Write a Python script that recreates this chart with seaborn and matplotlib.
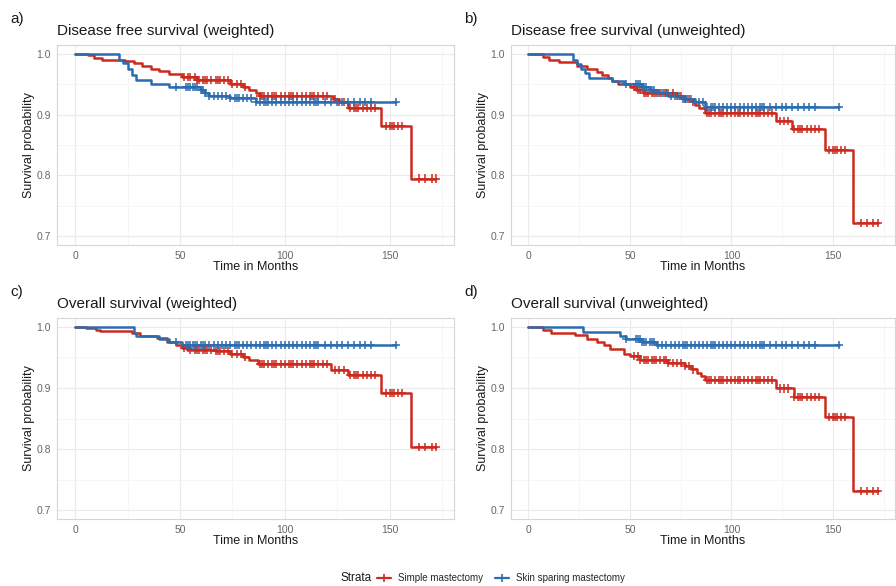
import numpy as np
import pandas as pd
import matplotlib
matplotlib.use("Agg")
import matplotlib.pyplot as plt
import seaborn as sns
from matplotlib.lines import Line2D
from matplotlib.ticker import MultipleLocator

sns.set_style("white")
plt.rcParams["font.family"] = ["Liberation Sans", "DejaVu Sans"]

RED = "#CC2A1E"
BLUE = "#2B6CB0"
strata_names = ["Simple mastectomy", "Skin sparing mastectomy"]

# -----------------------------
# DATA
# -----------------------------
# a) Disease free survival (weighted)
a_simple_t = [0, 6, 9, 13, 24, 28, 32, 36, 40, 45, 51, 58, 74, 80, 83, 86, 88, 123, 126, 130, 146, 160, 172]
a_simple_s = [1.0, .997, .993, .990, .988, .985, .980, .975, .971, .967, .962, .956, .950, .945, .940, .935, .931, .925, .920, .911, .881, .795, .795]
a_skin_t = [0, 21, 23, 25, 27, 29, 36, 45, 60, 62, 64, 74, 86, 153]
a_skin_s = [1.0, .990, .985, .975, .965, .956, .950, .945, .940, .935, .930, .927, .921, .921]

# b) Disease free survival (unweighted)
b_simple_t = [0, 7, 10, 15, 24, 29, 34, 36, 39, 41, 44, 50, 53, 57, 73, 77, 81, 82, 84, 87, 122, 130, 146, 160, 172]
b_simple_s = [1.0, .995, .990, .986, .980, .975, .970, .965, .960, .955, .950, .945, .940, .935, .930, .925, .920, .915, .910, .903, .890, .876, .842, .722, .722]
b_skin_t = [0, 22, 24, 26, 28, 30, 41, 47, 56, 60, 64, 69, 76, 82, 87, 153]
b_skin_s = [1.0, .990, .983, .975, .968, .960, .955, .950, .945, .940, .935, .930, .925, .920, .912, .912]

# c) Overall survival (weighted)
c_simple_t = [0, 5, 10, 12, 27, 31, 39, 44, 48, 51, 55, 67, 74, 80, 83, 87, 122, 130, 146, 160, 172]
c_simple_s = [1.0, .997, .995, .993, .989, .985, .981, .975, .970, .965, .962, .960, .955, .950, .945, .939, .929, .921, .891, .803, .803]
c_skin_t = [0, 28, 29, 40, 45, 51, 153]
c_skin_s = [1.0, .990, .985, .980, .975, .970, .970]

# d) Overall survival (unweighted)
d_simple_t = [0, 7, 11, 23, 29, 34, 37, 40, 47, 50, 55, 69, 77, 80, 83, 85, 87, 122, 131, 146, 160, 172]
d_simple_s = [1.0, .995, .990, .987, .980, .975, .970, .963, .955, .952, .946, .940, .935, .930, .925, .920, .913, .899, .885, .852, .731, .731]
d_skin_t = [0, 27, 45, 48, 56, 63, 153]
d_skin_s = [1.0, .991, .985, .980, .975, .970, .970]

# censoring times
simple_censor = [52, 54, 55, 57, 58, 59, 61, 62, 63, 65, 67, 68, 69, 71, 73, 75, 77, 79, 81, 88, 89, 90, 92,
                 94, 95, 96, 98, 100, 102, 103, 104, 106, 108, 110, 112, 113, 114, 116, 118, 120, 124,
                 126, 128, 131, 133, 134, 135, 137, 139, 141, 143, 148, 150, 151, 152, 154, 156, 164,
                 167, 170, 172]
skin_censor = [48, 53, 54, 55, 56, 57, 58, 60, 61, 62, 64, 66, 68, 70, 72, 74, 76, 77, 78, 80, 82, 84,
               86, 88, 90, 91, 92, 94, 96, 98, 100, 102, 104, 106, 108, 110, 112, 114, 115, 116, 119,
               122, 125, 127, 130, 133, 136, 138, 141, 153]

panels = [
    ("a)", "Disease free survival (weighted)", a_simple_t, a_simple_s, a_skin_t, a_skin_s),
    ("b)", "Disease free survival (unweighted)", b_simple_t, b_simple_s, b_skin_t, b_skin_s),
    ("c)", "Overall survival (weighted)", c_simple_t, c_simple_s, c_skin_t, c_skin_s),
    ("d)", "Overall survival (unweighted)", d_simple_t, d_simple_s, d_skin_t, d_skin_s),
]

# pixel boxes (left, top, right, bottom)
boxes = [(57, 45, 454, 245), (511, 45, 895, 245), (57, 318, 454, 519), (511, 318, 895, 519)]

W, H = 896, 586
fig = plt.figure(figsize=(W / 100, H / 100), dpi=100)


def step_at(t, s, ct):
    idx = np.searchsorted(t, ct, side="right") - 1
    return np.array(s)[idx]


for (lab, title, st, ss, kt, ks), (l, t, r, b) in zip(panels, boxes):
    ax = fig.add_axes([l / W, 1 - b / H, (r - l) / W, (b - t) / H])

    curves = pd.concat([
        pd.DataFrame({"time": st, "surv": ss, "strata": strata_names[0]}),
        pd.DataFrame({"time": kt, "surv": ks, "strata": strata_names[1]}),
    ])
    sns.lineplot(data=curves, x="time", y="surv", hue="strata", ax=ax,
                 palette=[RED, BLUE], estimator=None, drawstyle="steps-post",
                 linewidth=1.8, legend=False)

    sc = np.array([c for c in simple_censor if c <= st[-1]])
    kc = np.array([c for c in skin_censor if c <= kt[-1]])
    marks = pd.concat([
        pd.DataFrame({"time": sc, "surv": step_at(st, ss, sc), "strata": strata_names[0]}),
        pd.DataFrame({"time": kc, "surv": step_at(kt, ks, kc), "strata": strata_names[1]}),
    ])
    sns.scatterplot(data=marks, x="time", y="surv", hue="strata", ax=ax,
                    palette=[RED, BLUE], marker="+", s=34, linewidth=1.1, legend=False, zorder=3)

    ax.set_xlim(-8.6, 180.6)
    ax.set_ylim(0.686, 1.014)
    ax.xaxis.set_major_locator(MultipleLocator(50))
    ax.xaxis.set_minor_locator(MultipleLocator(25))
    ax.set_yticks([0.7, 0.8, 0.9, 1.0])
    ax.set_yticklabels(["0.7", "0.8", "0.9", "1.0"])
    ax.yaxis.set_minor_locator(MultipleLocator(0.05))
    ax.grid(which="major", color="#EBEBEB", linewidth=0.8)
    ax.grid(which="minor", color="#F3F3F3", linewidth=0.5)
    ax.set_axisbelow(True)
    for sp in ax.spines.values():
        sp.set_color("#D6D6D6")
        sp.set_linewidth(0.8)
    ax.tick_params(which="major", length=2.5, width=0.6, color="#B3B3B3",
                   labelsize=7.5, labelcolor="#666666", pad=2)
    ax.tick_params(which="minor", length=0)

    ax.set_xlabel("Time in Months", fontsize=9, color="#1A1A1A", va="center")
    ax.xaxis.set_label_coords(0.5, -(267 - 245) / (b - t))
    ax.set_ylabel("Survival probability", fontsize=9, color="#1A1A1A", va="center")
    ax.yaxis.set_label_coords(-28 / (r - l), 0.5)

    fig.text(l / W, 1 - (t - 14) / H, title, fontsize=11, color="#1A1A1A", va="center", ha="left")
    fig.text((l - 47) / W, 1 - (t - 26) / H, lab, fontsize=11, color="#1A1A1A", va="center", ha="left")

# legend at the bottom
fig.text(340 / W, 1 - 578 / H, "Strata", fontsize=8.5, color="#1A1A1A", va="center", ha="left")
handles = [Line2D([], [], color=RED, lw=1.6, marker="+", markersize=6, markeredgewidth=1.2),
           Line2D([], [], color=BLUE, lw=1.6, marker="+", markersize=6, markeredgewidth=1.2)]
fig.legend(handles, strata_names, loc="center left", bbox_to_anchor=(377 / W, 1 - 578 / H),
           ncol=2, frameon=False, fontsize=7, handlelength=1.4, handletextpad=0.8,
           columnspacing=1.2, borderpad=0, borderaxespad=0)

fig.savefig("out.png", dpi=100)
